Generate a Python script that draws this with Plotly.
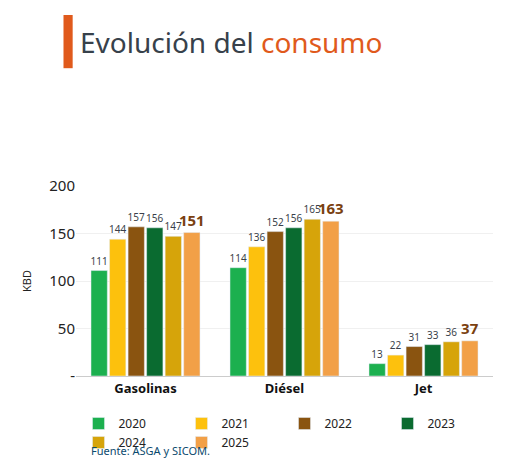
import plotly.graph_objects as go

categories = ["Gasolinas", "Diésel", "Jet"]
years = ["2020", "2021", "2022", "2023", "2024", "2025"]
v2020 = [111, 114, 13]
v2021 = [144, 136, 22]
v2022 = [157, 152, 31]
v2023 = [156, 156, 33]
v2024 = [147, 165, 36]
v2025 = [151, 163, 37]
series = [v2020, v2021, v2022, v2023, v2024, v2025]
colors = ["#1cb04f", "#fdc10d", "#8a5410", "#0a6b30", "#d6a40a", "#f2a047"]

fig = go.Figure()
for i, (yr, vals, col) in enumerate(zip(years, series, colors)):
    last = i == len(years) - 1
    fig.add_trace(go.Bar(
        name=yr, x=categories, y=vals, marker_color=col,
        text=vals, textposition="outside", cliponaxis=False, constraintext="none",
        textangle=0,
        textfont=dict(size=15 if last else 10, color="#7a4010" if last else "#3a3f4a",
                      family="Noto Sans"),
        texttemplate="<b>%{y}</b>" if last else "%{y}",
    ))

fig.update_layout(
    width=511, height=468, plot_bgcolor="white", paper_bgcolor="white",
    margin=dict(l=68, r=26, t=178, b=100),
    barmode="group", bargap=0.2, bargroupgap=0.12,
    font=dict(family="Noto Sans", color="#222"),
    legend=dict(orientation="h", x=0.5, xanchor="center", y=-0.3, yanchor="middle",
                font=dict(size=12), entrywidth=58, traceorder="normal"),
    xaxis=dict(tickfont=dict(size=13, color="#111"), showline=True, linecolor="#ccc",
               tickprefix="<b>", ticksuffix="</b>"),
    yaxis=dict(range=[0, 200], tickvals=[0, 50, 100, 150, 200],
               ticktext=["-", "50", "100", "150", "200"], tickfont=dict(size=15, color="#222"),
               gridcolor="#f0f0f0", title=dict(text="KBD", font=dict(size=11)), zeroline=False),
    shapes=[dict(type="rect", xref="paper", yref="paper", x0=-0.03, x1=-0.008, y0=1.62, y1=1.9,
                 fillcolor="#e05a1c", line_width=0)],
    annotations=[
        dict(text="<span style='color:#37414b'>Evolución del </span><span style='color:#e05a1c'>consumo</span>",
             xref="paper", yref="paper", x=0.005, y=1.76, xanchor="left", yanchor="middle",
             showarrow=False, font=dict(size=28, family="Noto Sans")),
        dict(text="Fuente: ASGA y SICOM.", xref="paper", yref="paper", x=0.03, y=-0.39,
             xanchor="left", yanchor="middle", showarrow=False, font=dict(size=11, color="#0b4a6e")),
    ],
)
fig.write_html("out.html")
